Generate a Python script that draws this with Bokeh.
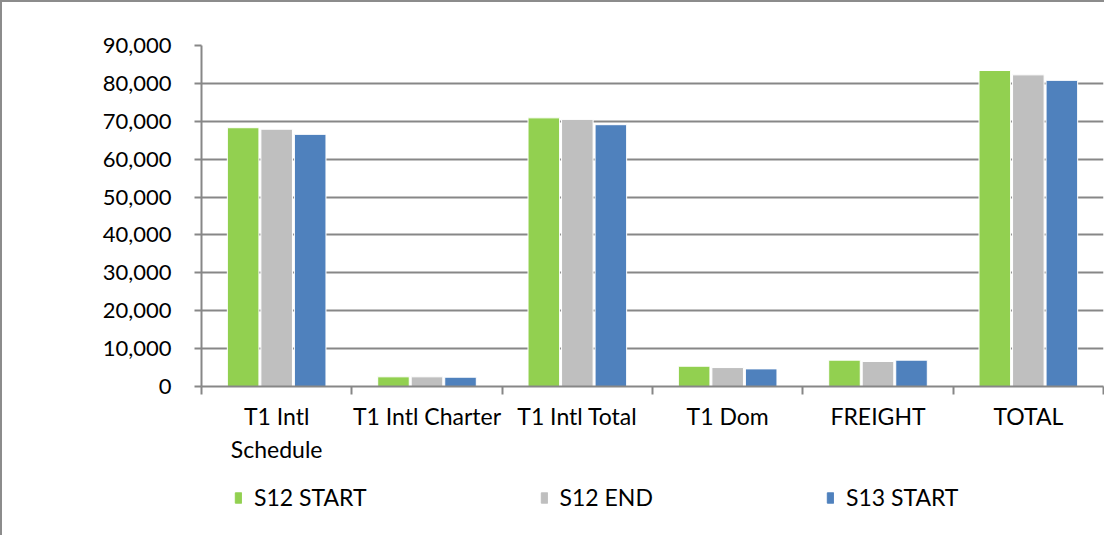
from bokeh.plotting import figure
from bokeh.layouts import column
from bokeh.models import (ColumnDataSource, FixedTicker, NumeralTickFormatter,
                          Legend, LegendItem, Range1d)
from bokeh.embed import file_html
from bokeh.resources import INLINE

categories = ["T1 Intl\nSchedule", "T1 Intl Charter", "T1 Intl Total", "T1 Dom", "FREIGHT", "TOTAL"]
series_names = ["S12 START", "S12 END", "S13 START"]
s12_start = [68300, 2550, 70900, 5350, 6950, 83400]
s12_end = [67900, 2550, 70500, 5000, 6600, 82250]
s13_start = [66550, 2450, 69100, 4650, 6950, 80800]
series_values = [s12_start, s12_end, s13_start]
colors = ["#92D050", "#BFBFBF", "#4F81BD"]
y_ticks = list(range(0, 90001, 10000))

FONT = "Lato"
GRID = "#878787"
BORDER = "2px solid #8c8c8c"

n = len(categories)
centers = [i + 0.5 for i in range(n)]
offsets = [-0.223, 0.0, 0.223]

p = figure(width=1104, height=470, output_backend="svg", toolbar_location=None,
           x_range=Range1d(0, n), y_range=Range1d(0, 90000),
           min_border_left=199, min_border_right=3, min_border_top=43,
           min_border_bottom=86)
p.outline_line_color = None
p.background_fill_color = "white"
p.border_fill_color = "white"

for name, vals, col, off in zip(series_names, series_values, colors, offsets):
    src = ColumnDataSource(dict(x=[c + off for c in centers], top=vals))
    p.vbar(x="x", top="top", width=0.21, bottom=0, source=src,
           fill_color=col, line_color="white", line_width=1)

# y axis
p.yaxis.ticker = FixedTicker(ticks=y_ticks)
p.yaxis.formatter = NumeralTickFormatter(format="0,0")
p.yaxis.major_tick_in = 0
p.yaxis.major_tick_out = 7
p.yaxis.minor_tick_line_color = None
p.yaxis.axis_line_color = GRID
p.yaxis.axis_line_width = 2
p.yaxis.major_tick_line_color = GRID
p.yaxis.major_tick_line_width = 2
p.yaxis.major_label_standoff = 23
p.yaxis.major_label_text_font = FONT
p.yaxis.major_label_text_font_size = "22px"
p.yaxis.major_label_text_color = "black"

# x axis: labels at centers, ticks at boundaries
p.xaxis.ticker = FixedTicker(ticks=centers, minor_ticks=list(range(n + 1)))
p.xaxis.major_label_overrides = {c: lab for c, lab in zip(centers, categories)}
p.xaxis.major_tick_line_color = None
p.xaxis.major_tick_in = 0
p.xaxis.major_tick_out = 0
p.xaxis.minor_tick_in = 0
p.xaxis.minor_tick_out = 8
p.xaxis.minor_tick_line_color = GRID
p.xaxis.minor_tick_line_width = 2
p.xaxis.axis_line_color = GRID
p.xaxis.axis_line_width = 2
p.xaxis.major_label_standoff = 7
p.xaxis.major_label_text_font = FONT
p.xaxis.major_label_text_font_size = "23px"
p.xaxis.major_label_text_color = "black"
p.xaxis.major_label_text_line_height = 1.18

p.xgrid.grid_line_color = None
p.ygrid.ticker = FixedTicker(ticks=y_ticks)
p.ygrid.grid_line_color = GRID
p.ygrid.grid_line_width = 2
p.styles = {"border-left": BORDER, "border-top": BORDER}

# legend strip below the chart
q = figure(width=1104, height=65, output_backend="svg", toolbar_location=None,
           x_range=Range1d(0, 1), y_range=Range1d(0, 1),
           min_border_left=0, min_border_right=0, min_border_top=0,
           min_border_bottom=0)
q.axis.visible = False
q.grid.visible = False
q.outline_line_color = None
q.border_fill_color = "white"
q.background_fill_color = "white"
items = []
for name, col in zip(series_names, colors):
    r = q.vbar(x=[-5], top=[0], width=0.1, fill_color=col, line_color=col)
    items.append(LegendItem(label=name, renderers=[r]))
legend = Legend(items=items, orientation="horizontal", location=(33, 24),
                spacing=173, padding=0, margin=0, border_line_color=None,
                background_fill_alpha=0, glyph_width=8, glyph_height=13,
                label_standoff=12, label_text_font=FONT,
                label_text_font_size="23px", label_text_color="black")
q.add_layout(legend, "center")
q.styles = {"border-left": BORDER}

layout = column(p, q, spacing=0)
open("out.html", "w").write(file_html(layout, INLINE))
